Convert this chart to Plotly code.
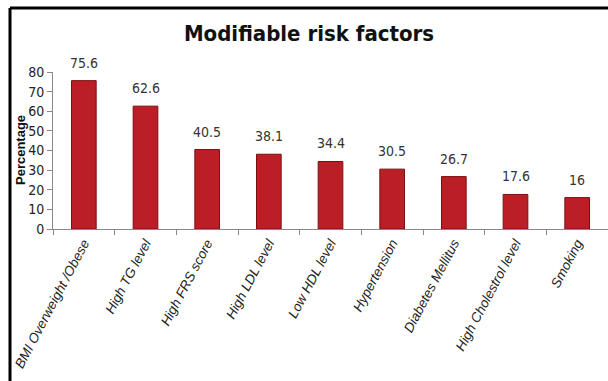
import plotly.graph_objects as go

categories = ["BMI Overweight /Obese", "High TG level", "High FRS score", "High LDL level",
              "Low HDL level", "Hypertension", "Diabetes Mellitus", "High Cholestrol level", "Smoking"]
values = [75.6, 62.6, 40.5, 38.1, 34.4, 30.5, 26.7, 17.6, 16]
labels = ["75.6", "62.6", "40.5", "38.1", "34.4", "30.5", "26.7", "17.6", "16"]
y_ticks = [0, 10, 20, 30, 40, 50, 60, 70, 80]

W, H = 608, 381
L, R, T, B = 53, 0, 72, 152
pw, ph = W - L - R, H - T - B

def px(x):
    return (x - L) / pw

def py(y):
    return 1 - (y - T) / ph

FONT = "DejaVu Sans Condensed, Roboto, sans-serif"

fig = go.Figure()
fig.add_trace(go.Bar(
    x=categories, y=values,
    marker=dict(color="#bb1f25", line=dict(color="#7a0f12", width=1)),
    width=0.4,
))

for c, v, t in zip(categories, values, labels):
    fig.add_annotation(x=c, y=v, text=t, showarrow=False, yanchor="middle", yshift=18,
                       font=dict(family=FONT, size=14, color="#333333"))

fig.update_layout(
    width=W, height=H, margin=dict(l=L, r=R, t=T, b=B),
    paper_bgcolor="white", plot_bgcolor="white", showlegend=False,
    title=dict(text="<b>Modifiable risk factors</b>", x=309 / W, xanchor="center",
               y=1 - 33 / H, yanchor="middle",
               font=dict(family=FONT, size=22, color="#111111")),
    font=dict(family=FONT, color="#222222"),
    xaxis=dict(tickangle=-62, tickson="boundaries", ticks="outside", ticklen=5, tickcolor="#888888",
               tickvals=categories, ticktext=["<i>" + c + "</i>" for c in categories],
               showline=True, linecolor="#888888", linewidth=1,
               tickfont=dict(family="Liberation Sans, Arial, sans-serif", size=13.5, color="#222222"),
               showgrid=False),
    yaxis=dict(range=[0, 80], tickvals=y_ticks, ticks="outside", ticklen=5, tickcolor="#888888",
               showline=True, linecolor="#888888", linewidth=1, showgrid=False, zeroline=False,
               tickfont=dict(family=FONT, size=14, color="#222222")),
    bargap=0.6,
)

fig.add_annotation(xref="paper", yref="paper", x=px(20), y=py(150), text="<b>Percentage</b>",
                   textangle=-90, showarrow=False, xanchor="center", yanchor="middle",
                   font=dict(family="Liberation Sans, Arial, sans-serif", size=13, color="#111111"))

# Frame lines (top and left)
fig.add_shape(type="line", xref="paper", yref="paper", x0=px(10), x1=px(608), y0=py(8), y1=py(8),
              line=dict(color="black", width=3))
fig.add_shape(type="line", xref="paper", yref="paper", x0=px(10), x1=px(10), y0=py(8), y1=py(381),
              line=dict(color="black", width=3))

fig.write_html("out.html")
